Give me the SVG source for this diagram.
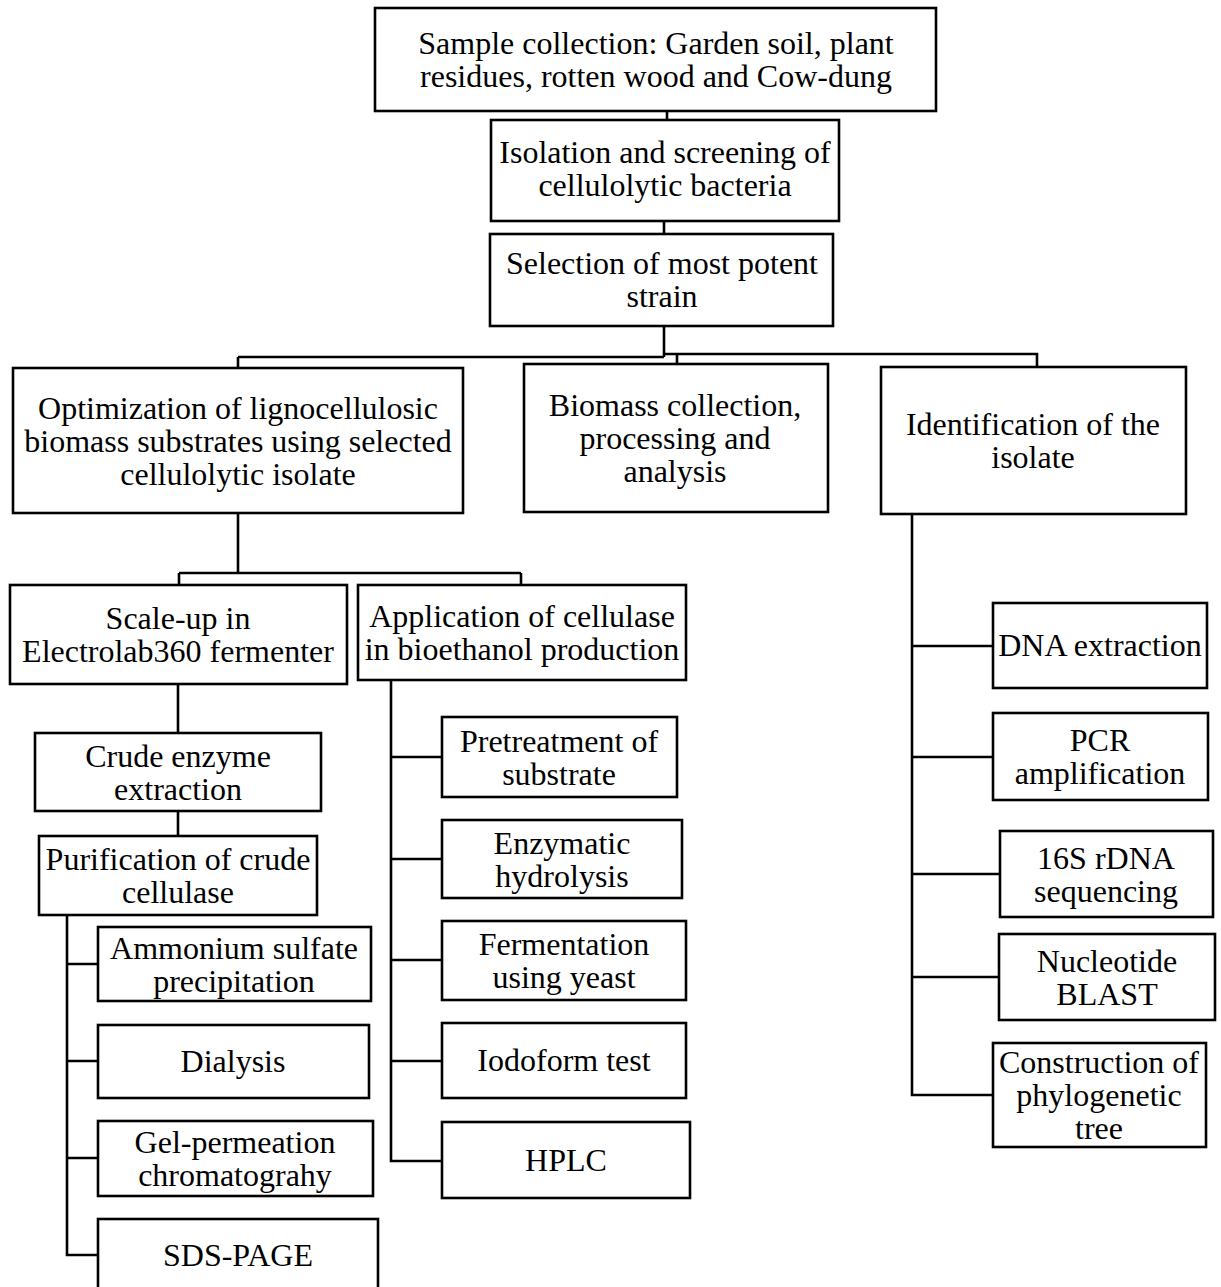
<svg xmlns="http://www.w3.org/2000/svg" width="1221" height="1287" viewBox="0 0 1221 1287">
<style>
.b{fill:#fff;stroke:#000;stroke-width:2.6}
.t{font-family:"Liberation Serif","Times New Roman",serif;font-size:32px;fill:#000;text-anchor:middle}
.c{fill:none;stroke:#000;stroke-width:2.6}
</style>
<rect width="1221" height="1287" fill="#fff"/>
<g id="connectors" class="c">
<path d="M667 111V120"/>
<path d="M664 221V234"/>
<path d="M664 326V357M238 357H664M238 357V368M664 354H1037V367M677 354V364"/>
<path d="M238 513V573M179 573H521M179 573V585M521 573V585"/>
<path d="M178 684V733M178 811V836"/>
<path d="M67 915V1255H98M67 964H98M67 1061H98M67 1158H98"/>
<path d="M391 680V1161H442M391 757H442M391 859H442M391 960H442M391 1061H442"/>
<path d="M912 514V1095H993M912 646H993M912 757H993M912 874H1000M912 977H999"/>
</g>
<g id="n1"><rect class="b" x="375" y="8" width="561" height="103"/><text class="t" x="656" y="54">Sample collection: Garden soil, plant</text><text class="t" x="656" y="87">residues, rotten wood and Cow-dung</text></g>
<g id="n2"><rect class="b" x="491" y="120" width="348" height="101"/><text class="t" x="665" y="163">Isolation and screening of</text><text class="t" x="665" y="196">cellulolytic bacteria</text></g>
<g id="n3"><rect class="b" x="490" y="234" width="343" height="92"/><text class="t" x="662" y="274">Selection of most potent</text><text class="t" x="662" y="307">strain</text></g>
<g id="n4"><rect class="b" x="13" y="368" width="450" height="145"/><text class="t" x="238" y="419">Optimization of lignocellulosic</text><text class="t" x="238" y="452">biomass substrates using selected</text><text class="t" x="238" y="485">cellulolytic isolate</text></g>
<g id="n5"><rect class="b" x="524" y="364" width="304" height="148"/><text class="t" x="675" y="416">Biomass collection,</text><text class="t" x="675" y="449">processing and</text><text class="t" x="675" y="482">analysis</text></g>
<g id="n6"><rect class="b" x="881" y="367" width="305" height="147"/><text class="t" x="1033" y="435">Identification of the</text><text class="t" x="1033" y="468">isolate</text></g>
<g id="n7"><rect class="b" x="10" y="585" width="337" height="99"/><text class="t" x="178" y="629">Scale-up in</text><text class="t" x="178" y="662">Electrolab360 fermenter</text></g>
<g id="n8"><rect class="b" x="358" y="585" width="328" height="95"/><text class="t" x="522" y="627">Application of cellulase</text><text class="t" x="522" y="660">in bioethanol production</text></g>
<g id="n9"><rect class="b" x="35" y="733" width="286" height="78"/><text class="t" x="178" y="767">Crude enzyme</text><text class="t" x="178" y="800">extraction</text></g>
<g id="n10"><rect class="b" x="39" y="836" width="278" height="79"/><text class="t" x="178" y="870">Purification of crude</text><text class="t" x="178" y="903">cellulase</text></g>
<g id="n11"><rect class="b" x="98" y="927" width="273" height="74"/><text class="t" x="234" y="959">Ammonium sulfate</text><text class="t" x="234" y="992">precipitation</text></g>
<g id="n12"><rect class="b" x="98" y="1025" width="271" height="73"/><text class="t" x="233" y="1072">Dialysis</text></g>
<g id="n13"><rect class="b" x="98" y="1121" width="275" height="75"/><text class="t" x="235" y="1153">Gel-permeation</text><text class="t" x="235" y="1186">chromatograhy</text></g>
<g id="n14"><rect class="b" x="98" y="1219" width="280" height="80"/><text class="t" x="238" y="1266">SDS-PAGE</text></g>
<g id="n15"><rect class="b" x="442" y="717" width="235" height="80"/><text class="t" x="559" y="752">Pretreatment of</text><text class="t" x="559" y="785">substrate</text></g>
<g id="n16"><rect class="b" x="442" y="820" width="240" height="78"/><text class="t" x="562" y="854">Enzymatic</text><text class="t" x="562" y="887">hydrolysis</text></g>
<g id="n17"><rect class="b" x="442" y="921" width="244" height="79"/><text class="t" x="564" y="955">Fermentation</text><text class="t" x="564" y="988">using yeast</text></g>
<g id="n18"><rect class="b" x="442" y="1023" width="244" height="75"/><text class="t" x="564" y="1071">Iodoform test</text></g>
<g id="n19"><rect class="b" x="442" y="1122" width="248" height="76"/><text class="t" x="566" y="1171">HPLC</text></g>
<g id="n20"><rect class="b" x="993" y="603" width="214" height="85"/><text class="t" x="1100" y="656">DNA extraction</text></g>
<g id="n21"><rect class="b" x="993" y="713" width="215" height="87"/><text class="t" x="1100" y="751">PCR</text><text class="t" x="1100" y="784">amplification</text></g>
<g id="n22"><rect class="b" x="1000" y="831" width="213" height="86"/><text class="t" x="1106" y="869">16S rDNA</text><text class="t" x="1106" y="902">sequencing</text></g>
<g id="n23"><rect class="b" x="999" y="934" width="216" height="86"/><text class="t" x="1107" y="972">Nucleotide</text><text class="t" x="1107" y="1005">BLAST</text></g>
<g id="n24"><rect class="b" x="993" y="1043" width="213" height="104"/><text class="t" x="1099" y="1073">Construction of</text><text class="t" x="1099" y="1106">phylogenetic</text><text class="t" x="1099" y="1139">tree</text></g>
</svg>
